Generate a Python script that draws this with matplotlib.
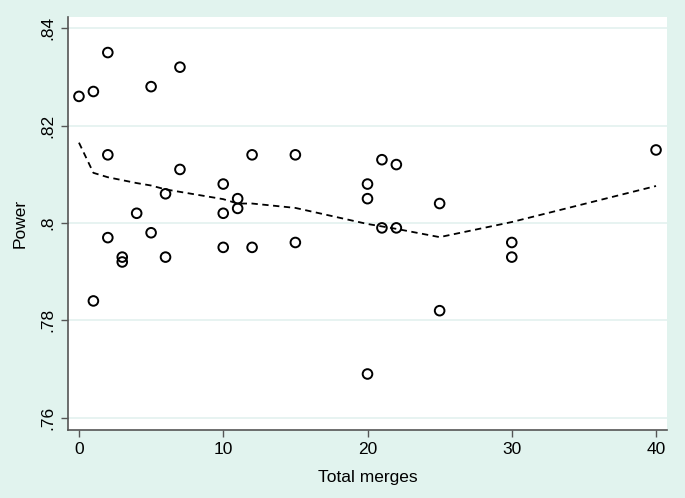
import matplotlib
matplotlib.use("Agg")
import matplotlib.pyplot as plt

plt.rcParams['font.family'] = ['Liberation Sans', 'DejaVu Sans']

merges = [0, 1, 1, 2, 2, 2, 3, 3, 4, 5, 5, 6, 6, 7, 7,
          10, 10, 10, 11, 11, 12, 12, 15, 15, 20, 20, 20,
          21, 21, 22, 22, 25, 25, 30, 30, 40]
power = [.826, .827, .784, .835, .814, .797, .793, .792, .802, .828, .798, .806, .793, .832, .811,
         .808, .802, .795, .805, .803, .814, .795, .814, .796, .808, .805, .769,
         .813, .799, .812, .799, .804, .782, .796, .793, .815]

lowess_x = [0, 1, 2, 3, 4, 5, 6, 7, 10, 11, 12, 15, 20, 21, 22, 25, 30, 40]
lowess_y = [.8165, .8103, .8094, .8088, .8082, .8077, .8069, .8064, .8049, .8040, .8040, .8031,
            .7998, .7993, .7988, .7971, .8002, .8076]

xticks = [0, 10, 20, 30, 40]
yticks = [.76, .78, .80, .82, .84]
yticklabels = ['.76', '.78', '.8', '.82', '.84']

bg = '#E1F3EE'
fig = plt.figure(figsize=(6.85, 4.98), dpi=100, facecolor=bg)
ax = fig.add_axes([68/685, 1 - 430/498, (667-68)/685, (430-17)/498])
ax.set_facecolor('white')

for yv in yticks:
    ax.axhline(yv, color='#E3F1EF', lw=1.2, zorder=0)

ax.scatter(merges, power, s=48, facecolors='none', edgecolors='black', linewidths=1.4, zorder=3)
ax.plot(lowess_x, lowess_y, color='black', lw=1.3, ls=(0, (3.5, 2.5)), zorder=2)

ax.set_xlim(-0.76, 40.76)
ax.set_ylim(0.7575, 0.8423)
ax.set_xticks(xticks)
ax.set_xticklabels([str(t) for t in xticks])
ax.set_yticks(yticks)
ax.set_yticklabels(yticklabels, rotation=90, va='center')

for s in ['top', 'right']:
    ax.spines[s].set_visible(False)
for s in ['left', 'bottom']:
    ax.spines[s].set_color('#555555')
    ax.spines[s].set_linewidth(1.2)
ax.tick_params(axis='both', direction='out', length=5, width=1, color='#555555', labelsize=12.5, pad=4)

ax.set_xlabel('Total merges', fontsize=12.5, labelpad=9)
ax.set_ylabel('Power', fontsize=12.5, labelpad=9)

fig.savefig('out.png', dpi=100, facecolor=bg)
